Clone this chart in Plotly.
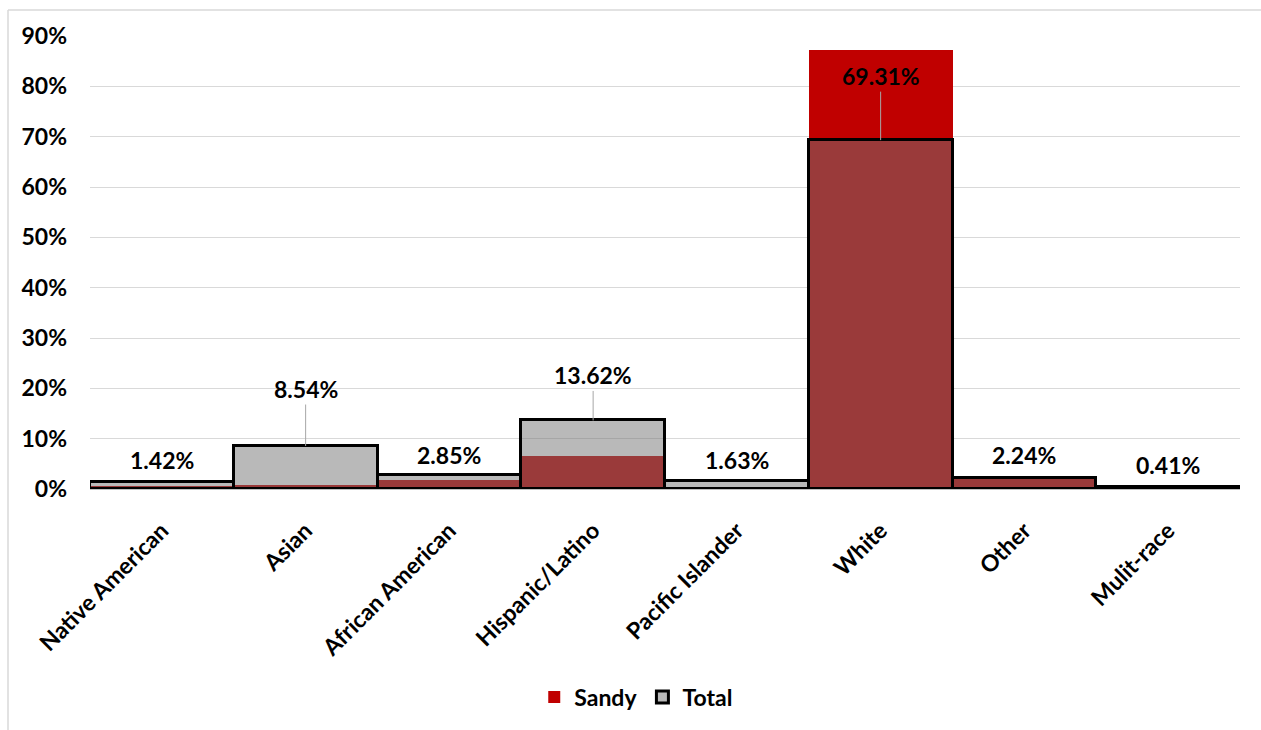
import plotly.graph_objects as go

categories = ["Native American", "Asian", "African American", "Hispanic/Latino",
              "Pacific Islander", "White", "Other", "Mulit-race"]
sandy = [0.005, 0.008, 0.017, 0.065, 0.0, 0.872, 0.022, 0.003]
total = [0.0142, 0.0854, 0.0285, 0.1362, 0.0163, 0.6931, 0.0224, 0.0041]
y_ticks = [0, 0.1, 0.2, 0.3, 0.4, 0.5, 0.6, 0.7, 0.8, 0.9]

FONT = "Lato"
FS = 23
fig = go.Figure()
fig.add_trace(go.Bar(x=categories, y=sandy, name="Sandy",
                     marker=dict(color="#C00000", line=dict(width=0))))
fig.add_trace(go.Bar(x=categories, y=total, name="Total",
                     marker=dict(color="rgba(115,115,115,0.5)",
                                 line=dict(color="black", width=3))))

# label placement (pixels): leader-line offsets or plain shifts
label_style = {
    "Native American": ("shift", 22),
    "Asian": ("arrow", -57),
    "African American": ("shift", 20),
    "Hispanic/Latino": ("arrow", -45),
    "Pacific Islander": ("shift", 21),
    "White": ("arrow", -64),
    "Other": ("shift", 23),
    "Mulit-race": ("shift", 22),
}
annotations = []
for c, v in zip(categories, total):
    kind, off = label_style[c]
    a = dict(x=c, y=v, xref="x", yref="y", text=f"{v*100:.2f}%",
             font=dict(family=FONT, size=FS, color="black", weight="bold"))
    if kind == "arrow":
        a.update(showarrow=True, arrowhead=0, arrowwidth=1, arrowcolor="#A6A6A6",
                 ax=0, ay=off, standoff=0)
    else:
        a.update(showarrow=False, yanchor="middle", yshift=off)
    annotations.append(a)

fig.update_layout(
    width=1261, height=730,
    margin=dict(l=90, r=21, t=36, b=239),
    barmode="overlay", bargap=0,
    plot_bgcolor="white", paper_bgcolor="white",
    font=dict(family=FONT, size=FS, color="black", weight="bold"),
    annotations=annotations,
    legend=dict(orientation="h", x=0.475, xanchor="center", y=-0.459, yanchor="middle",
                font=dict(family=FONT, size=FS, color="black", weight="bold"),
                itemwidth=30, tracegroupgap=0),
    shapes=[
        dict(type="line", xref="paper", yref="paper", x0=(8-90)/1150, x1=(8-90)/1150,
             y0=(491-10)/455, y1=(491-740)/455, line=dict(color="#D9D9D9", width=1.5)),
        dict(type="line", xref="paper", yref="paper", x0=(8-90)/1150, x1=(1270-90)/1150,
             y0=(491-10)/455, y1=(491-10)/455, line=dict(color="#D9D9D9", width=1.5)),
    ],
)
fig.update_yaxes(range=[0, 0.9], tickvals=y_ticks, tickformat=".0%",
                 showgrid=True, gridcolor="#D9D9D9", gridwidth=1,
                 zeroline=False, showline=False,
                 tickfont=dict(family=FONT, size=FS, color="black", weight="bold"),
                 ticklabelstandoff=22)
fig.update_xaxes(tickangle=-45, showline=True, linecolor="#BFBFBF", linewidth=1,
                 tickfont=dict(family=FONT, size=FS, color="black", weight="bold"),
                 ticks="outside", ticklen=18, tickcolor="rgba(0,0,0,0)")
fig.write_html("out.html")
